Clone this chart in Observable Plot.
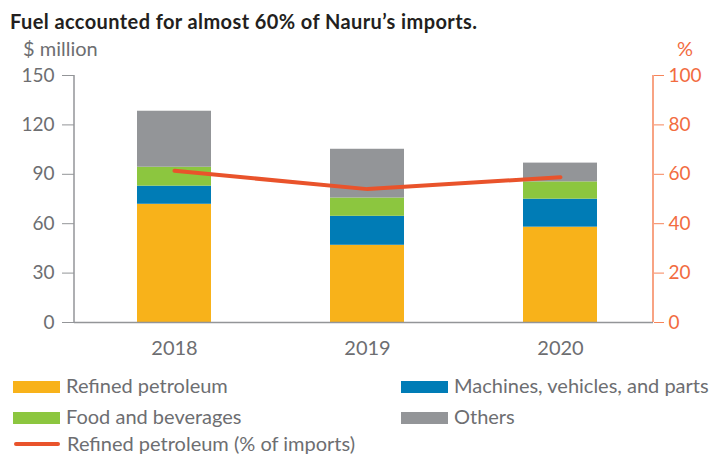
<!DOCTYPE html>
<html>
<head>
<meta charset="utf-8">
<script src="https://cdn.jsdelivr.net/npm/d3@7"></script>
<script src="https://cdn.jsdelivr.net/npm/@observablehq/plot@0.6"></script>
<style>
  html, body { margin: 0; padding: 0; background: #fff; }
  #page { position: relative; width: 712px; height: 456px; font-family: Lato, "Open Sans", sans-serif; overflow: hidden; }
  .abs { position: absolute; white-space: nowrap; line-height: 24px; }
  #title { left: 10px; top: 9px; font-size: 20px; font-weight: 700; color: #231f20; letter-spacing: 0.4px; }
  #ylab { left: 23px; top: 36px; font-size: 20px; color: #6d6e71; }
  #ylab2 { left: 677px; top: 36px; font-size: 20px; color: #f26c3f; }
  #chart { left: 0; top: 60px; line-height: normal; }
  .legtxt { font-size: 20px; color: #6d6e71; }
  .sw { position: absolute; width: 47px; height: 12px; }
  .swl { position: absolute; width: 46px; height: 4px; border-radius: 2px; }
</style>
</head>
<body>
<div id="page">
  <div id="title" class="abs">Fuel accounted for almost 60% of Nauru’s imports.</div>
  <div id="ylab" class="abs">$ million</div>
  <div id="ylab2" class="abs">%</div>
  <div id="chart" class="abs"></div>
  <div id="legend"></div>
</div>
<script>
const years = ["2018", "2019", "2020"];
const refined = [71.8, 46.9, 57.9];
const machines = [11.0, 17.6, 17.0];
const food = [11.5, 11.1, 10.5];
const others = [34.0, 29.6, 11.4];
const refinedShare = [61.4, 54.0, 58.8];
const seriesNames = ["Refined petroleum", "Machines, vehicles, and parts", "Food and beverages", "Others"];
const seriesColors = ["#f8b21a", "#007cb6", "#8cc63f", "#939598"];
const lineName = "Refined petroleum (% of imports)";
const lineColor = "#e9532b";
const leftTicks = [0, 30, 60, 90, 120, 150];
const rightTicks = [0, 20, 40, 60, 80, 100];
const leftMax = 150, rightMax = 100;
const ratio = leftMax / rightMax;

const seriesValues = [refined, machines, food, others];
const rows = [];
years.forEach((yr, i) => {
  seriesNames.forEach((s, j) => rows.push({year: yr, series: s, value: seriesValues[j][i]}));
});
const lineRows = years.map((yr, i) => ({year: yr, v: refinedShare[i] * ratio}));

const axisLines = (index, scales, values, dims) => {
  const g = d3.create("svg:g");
  const y0 = scales.y(0), y1 = scales.y(leftMax);
  const xl = dims.marginLeft, xr = dims.width - dims.marginRight;
  g.append("line").attr("x1", xl).attr("x2", xl).attr("y1", y0).attr("y2", y1)
    .attr("stroke", "#939598").attr("stroke-width", 1.5);
  g.append("line").attr("x1", xr).attr("x2", xr).attr("y1", y0).attr("y2", y1)
    .attr("stroke", "#f6845a").attr("stroke-width", 1.5);
  return g.node();
};

const chart = Plot.plot({
  width: 712,
  height: 305,
  marginTop: 15,
  marginBottom: 43,
  marginLeft: 74,
  marginRight: 59,
  style: {fontFamily: "Lato, 'Open Sans', sans-serif", fontSize: "19px", color: "#6d6e71", background: "white", overflow: "visible"},
  x: {domain: years, paddingInner: 0.618, paddingOuter: 0.305, align: 0.525},
  y: {domain: [0, leftMax]},
  color: {domain: seriesNames, range: seriesColors},
  marks: [
    Plot.barY(rows, {x: "year", y: "value", fill: "series"}),
    Plot.ruleY([0], {stroke: "#939598", strokeWidth: 1.5}),
    axisLines,
    Plot.axisY(leftTicks, {anchor: "left", tickSize: 12, tickPadding: 8, stroke: "#939598", fill: "#6d6e71", label: null, fontSize: 19}),
    Plot.axisY(rightTicks.map(d => d * ratio), {anchor: "right", tickSize: 10, tickPadding: 5, stroke: "#f6845a", fill: "#f26c3f", label: null, fontSize: 19, tickFormat: d => Math.round(d / ratio)}),
    Plot.axisX({tickSize: 0, tickPadding: 18, label: null, fontSize: 20, fill: "#6d6e71"}),
    Plot.line(lineRows, {x: "year", y: "v", stroke: lineColor, strokeWidth: 4, strokeLinecap: "round"})
  ]
});
document.getElementById("chart").appendChild(chart);

// legend
const legend = document.getElementById("legend");
const items = [
  {name: seriesNames[0], color: seriesColors[0], left: 13, base: 393},
  {name: seriesNames[1], color: seriesColors[1], left: 401, base: 393},
  {name: seriesNames[2], color: seriesColors[2], left: 13, base: 424},
  {name: seriesNames[3], color: seriesColors[3], left: 401, base: 424},
  {name: lineName, color: lineColor, left: 14, base: 451, line: true}
];
items.forEach(it => {
  const sw = document.createElement("div");
  sw.className = it.line ? "swl" : "sw";
  sw.style.background = it.color;
  sw.style.left = it.left + "px";
  sw.style.top = (it.line ? it.base - 9 : it.base - 12) + "px";
  legend.appendChild(sw);
  const t = document.createElement("div");
  t.className = "abs legtxt";
  t.textContent = it.name;
  t.style.left = (it.left + 53) + "px";
  t.style.top = (it.base - 20) + "px";
  legend.appendChild(t);
});
</script>
</body>
</html>
